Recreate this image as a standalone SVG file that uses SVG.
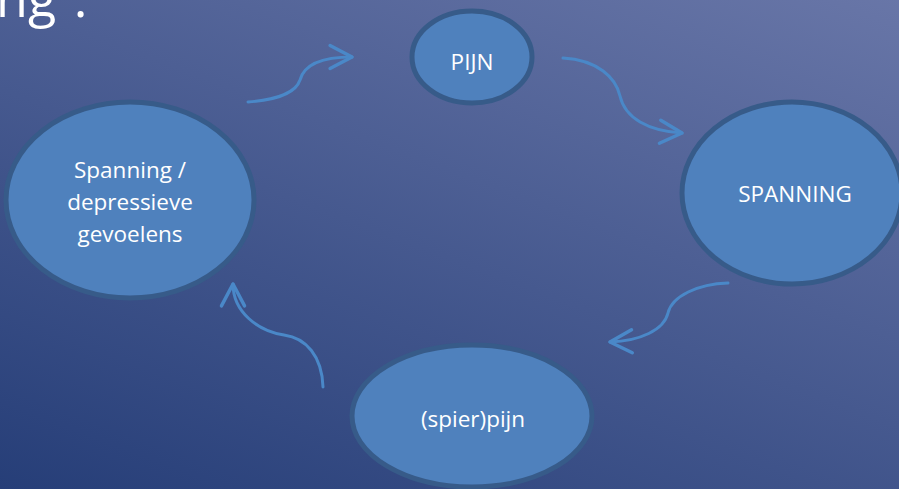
<svg xmlns="http://www.w3.org/2000/svg" width="899" height="489" viewBox="0 0 899 489">
  <defs>
    <linearGradient id="bg" gradientUnits="userSpaceOnUse" x1="132" y1="-350" x2="-161" y2="428">
      <stop offset="0" stop-color="#6d7aab"/>
      <stop offset="1" stop-color="#263e78"/>
    </linearGradient>
    <marker id="head" markerUnits="userSpaceOnUse" markerWidth="30" markerHeight="30" viewBox="-22 -13 26 26" refX="0" refY="0" orient="auto">
      <path d="M-19,-10 L0,0 L-19,10" fill="none" stroke="#4a88c8" stroke-width="3" stroke-linecap="round" stroke-linejoin="round"/>
    </marker>
  </defs>
  <style>
    .node ellipse { fill: #4f81bd; stroke: #375b89; stroke-width: 5; }
    .node text { fill: #ffffff; font-family: "Open Sans", "Liberation Sans", sans-serif; font-size: 22.5px; text-anchor: middle; }
    .title { fill: #ffffff; font-family: "Open Sans", "Liberation Sans", sans-serif; font-size: 52px; }
    .conn path { fill: none; stroke: #4a88c8; stroke-width: 3; stroke-linecap: round; marker-end: url(#head); }
  </style>

  <rect x="0" y="0" width="899" height="489" fill="url(#bg)"/>

  <!-- slide title, mostly above the visible area -->
  <text class="title" x="-4" y="17">ng<tspan dx="4"> :</tspan></text>

  <g id="connectors" class="conn">
    <path d="M248,102 C278,100 296,92 300,80 C304,65 322,57 352,57"/>
    <path d="M563,58 C598,60 616,78 620,96 C625,118 648,131 682,133"/>
    <path d="M728,283 C698,284 672,296 668,313 C664,330 640,341 610,342"/>
    <path d="M323,387 C322,356 306,338 284,335 C258,331 233,312 233,284"/>
  </g>

  <g id="node-pijn" class="node">
    <ellipse cx="472" cy="57" rx="60" ry="46"/>
    <text x="472" y="70">PIJN</text>
  </g>

  <g id="node-spanning" class="node">
    <ellipse cx="792" cy="193" rx="110" ry="91"/>
    <text x="795" y="202">SPANNING</text>
  </g>

  <g id="node-spierpijn" class="node">
    <ellipse cx="472" cy="416" rx="120" ry="71"/>
    <text x="473" y="427">(spier)pijn</text>
  </g>

  <g id="node-depressief" class="node">
    <ellipse cx="130" cy="200" rx="124" ry="98"/>
    <text x="130" y="178">Spanning /</text>
    <text x="130" y="210">depressieve</text>
    <text x="130" y="242">gevoelens</text>
  </g>
</svg>
